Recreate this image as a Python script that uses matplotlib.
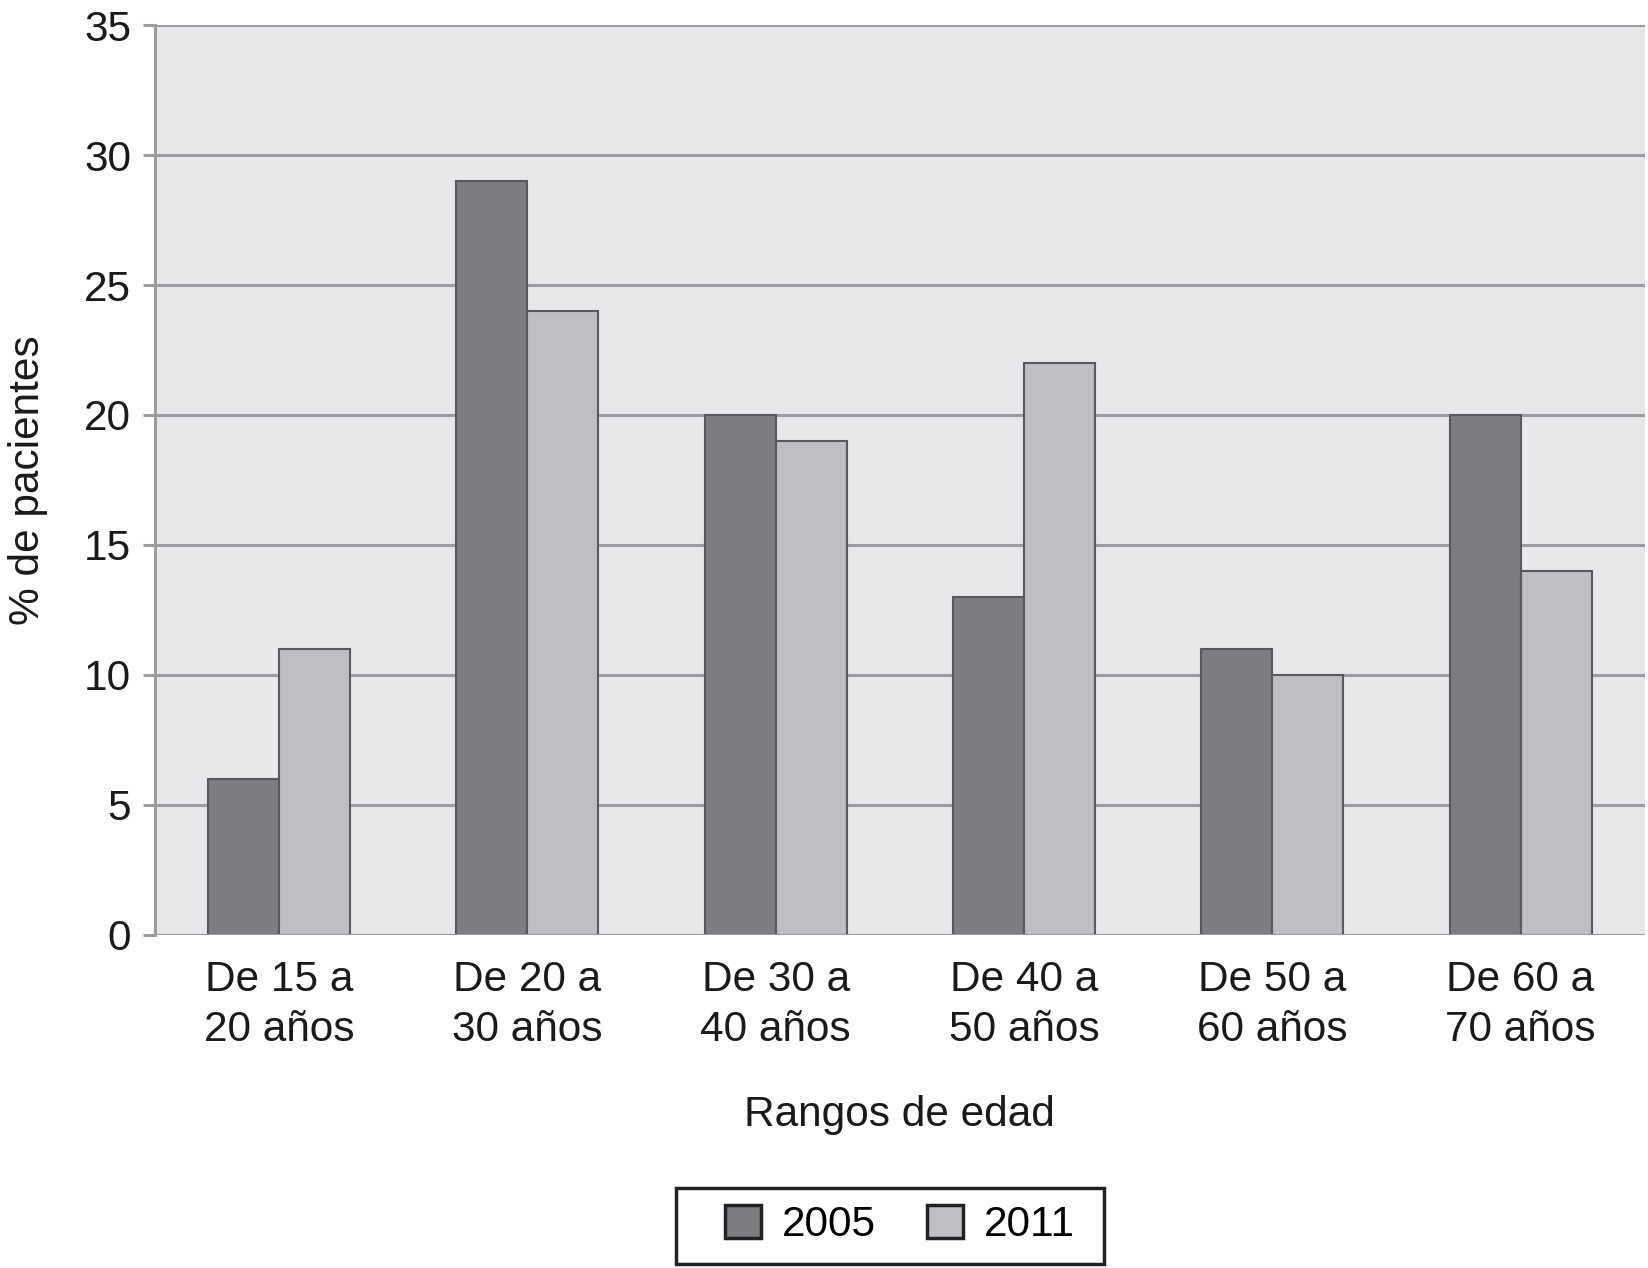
import matplotlib
matplotlib.use("Agg")
import matplotlib.pyplot as plt
import numpy as np
from matplotlib.patches import Patch, Rectangle

categories = ["De 15 a\n20 años", "De 20 a\n30 años", "De 30 a\n40 años",
              "De 40 a\n50 años", "De 50 a\n60 años", "De 60 a\n70 años"]
series_2005 = [6, 29, 20, 13, 11, 20]
series_2011 = [11, 24, 19, 22, 10, 14]
yticks = [0, 5, 10, 15, 20, 25, 30, 35]

plt.rcParams['font.family'] = ['Liberation Sans', 'DejaVu Sans']

c_dark = "#7c7d81"
c_light = "#bebfc3"
edge = "#58595c"
grid_c = "#9c9da0"
fs = 30.5

fig = plt.figure(figsize=(16.48, 12.68), dpi=100)
ax = fig.add_axes([0.094, 0.263, 0.904, 0.717])
ax.set_facecolor("#e7e8ea")

x = np.arange(len(categories))
w = 0.286
ax.bar(x - w/2, series_2005, width=w, color=c_dark, edgecolor=edge, linewidth=1.5, zorder=3)
ax.bar(x + w/2, series_2011, width=w, color=c_light, edgecolor=edge, linewidth=1.5, zorder=3)

ax.set_xlim(-0.5, len(categories) - 0.5)
ax.set_ylim(0, 35)
ax.set_yticks(yticks)
ax.yaxis.grid(True, color=grid_c, linewidth=2.2, zorder=1)
ax.set_axisbelow(True)
for s in ["top", "right", "bottom"]:
    ax.spines[s].set_visible(False)
ax.spines["left"].set_color(grid_c)
ax.spines["left"].set_linewidth(2.2)
ax.axhline(0, color=grid_c, linewidth=2.2, zorder=4)
ax.tick_params(axis="y", direction="out", length=9, width=2.2, color=grid_c,
               labelsize=fs, pad=8, labelcolor="#1a1a1a")
ax.tick_params(axis="x", length=0, labelsize=fs, pad=18, labelcolor="#1a1a1a")
ax.set_xticks(x)
ax.set_xticklabels(categories, linespacing=1.35)

ax.set_ylabel("% de pacientes", fontsize=fs, labelpad=26, color="#1a1a1a")
ax.set_xlabel("Rangos de edad", fontsize=fs, labelpad=32, color="#1a1a1a")

handles = [Patch(facecolor=c_dark, edgecolor="#222222", linewidth=2.5, label="2005"),
           Patch(facecolor=c_light, edgecolor="#222222", linewidth=2.5, label="2011")]
leg = fig.legend(handles=handles, loc="center", bbox_to_anchor=(0.546, 0.034), ncol=2,
                 fontsize=fs, frameon=False,
                 handlelength=0.85, handleheight=0.85, handletextpad=0.5,
                 columnspacing=1.2, borderpad=0.3, borderaxespad=0)
fig.patches.append(Rectangle((0.410, 0.003), 0.260, 0.060, transform=fig.transFigure,
                             fill=False, edgecolor="#222222", linewidth=2.5))

fig.savefig("out.png", dpi=100)
